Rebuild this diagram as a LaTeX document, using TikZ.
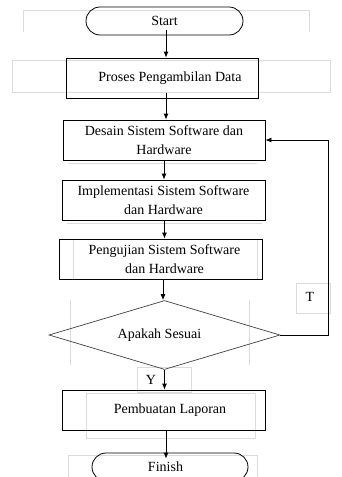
\documentclass[tikz,border=0pt]{standalone}
\usepackage{fontspec}
\setmainfont{Liberation Serif}
\usetikzlibrary{shapes.geometric,arrows.meta}
\begin{document}
\begin{tikzpicture}[x=1pt,y=-1pt,
  every node/.style={font=\fontsize{14}{19.5}\selectfont},
  procbox/.style={draw, line width=0.8pt, minimum width=203pt, minimum height=40pt, inner sep=0pt, align=center},
  termbox/.style={draw, line width=0.8pt, minimum width=157pt, minimum height=28pt, rounded corners=14pt, inner sep=0pt},
  decbox/.style={draw=black!75, line width=0.7pt, diamond, aspect=3.33, minimum width=231pt, minimum height=69pt, inner sep=0pt},
  faint/.style={draw=black!14, line width=0.6pt},
  flow/.style={line width=0.8pt, -{Latex[length=6pt,width=5pt]}},
  lbl/.style={inner sep=0pt}]
\clip (0,0) rectangle (341,477);
\useasboundingbox (0,0) rectangle (341,477);
% faint text-box outlines
\draw[faint] (23,32) -- (23,10) -- (309,10) -- (309,32);
\draw[faint] (12,60) rectangle (330,92);
\draw[faint] (68,163) -- (257,163);
\draw[faint] (67,223) -- (262,223);
\draw[faint] (73,239) -- (73,279);
\draw[faint] (257,239) -- (257,279);
\draw[faint] (70,300) -- (70,365);
\draw[faint] (249,300) -- (249,365);
\draw[faint] (137,367) rectangle (191,392);
\draw[faint] (296,283) rectangle (330,313);
\draw[faint] (86,393) rectangle (255,438);
\draw[faint] (68,455) rectangle (257,490);
% main nodes
\node[termbox] (start) at (164.5,21) {Start};
\node[procbox, minimum width=192pt] (proses) at (162,78) {\hspace*{16pt}Proses Pengambilan Data};
\node[procbox, minimum width=202pt] (desain) at (164,140) {Desain Sistem Software dan\\Hardware};
\node[procbox] (impl) at (163.5,200) {Implementasi Sistem Software\\dan Hardware};
\node[procbox] (uji) at (160.5,259) {\hspace*{8pt}Pengujian Sistem Software\\\hspace*{8pt}dan Hardware};
\node[decbox] (cek) at (164.5,335) {\hspace*{-10pt}Apakah Sesuai};
\node[procbox] (lapor) at (163.5,410) {\hspace*{13pt}Pembuatan Laporan};
\node[termbox, minimum width=156pt] (finish) at (170,467) {\hspace*{-9pt}Finish};
% labels
\node[lbl] (tlabel) at (310,297) {T};
\node[lbl] (ylabel) at (151,380) {Y};
% connectors
\draw[flow] ([xshift=1.5pt,yshift=5pt]start.south) -- ([xshift=1.5pt]start.south |- proses.north);
\draw[flow] ([xshift=4pt,yshift=5pt]proses.south) -- ([xshift=4pt]proses.south |- desain.north);
\draw[flow] (desain.south) -- (desain.south |- impl.north);
\draw[flow] ([xshift=1pt]impl.south) -- ([xshift=1pt]impl.south |- uji.north);
\draw[flow] ([xshift=2.5pt]uji.south) -- ([xshift=2.5pt]uji.south |- cek.north);
\draw[flow] (cek.south) -- (cek.south |- lapor.north);
\draw[flow] ([xshift=2.5pt]lapor.south) -- ([xshift=2.5pt,yshift=-6pt]lapor.south |- finish.north);
\coordinate (loopcorner) at (328,335);
\draw[flow] (cek.east) -- (loopcorner) -- (loopcorner |- desain.east) -- (desain.east);
\end{tikzpicture}
\end{document}
